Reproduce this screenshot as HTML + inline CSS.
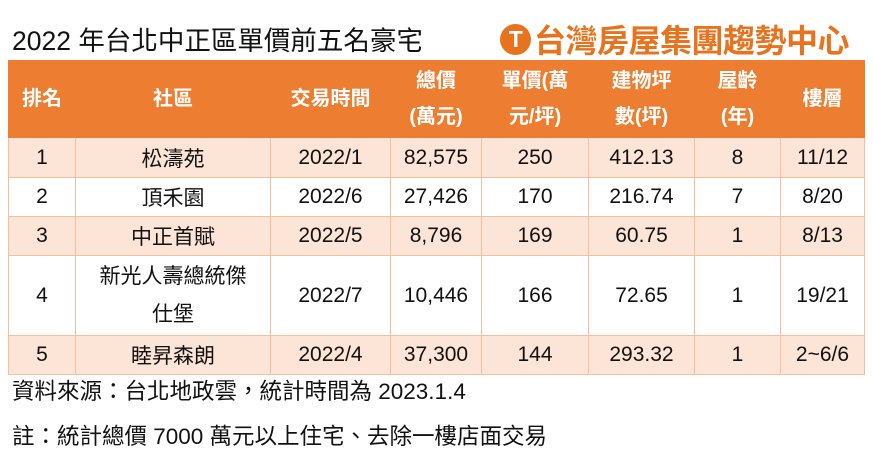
<!DOCTYPE html>
<html><head><meta charset="utf-8"><style>
body{margin:0;width:873px;height:455px;background:#fff;font-family:"Liberation Sans","Noto Sans CJK TC",sans-serif;position:relative;overflow:hidden}
.title{position:absolute;left:12px;top:19px;font-size:26.5px;color:#111}
.logo{position:absolute;left:500px;top:16px;font-size:32px;font-weight:bold;color:#e8731e;display:flex;align-items:center;letter-spacing:-0.5px}
.logo .ic{width:31px;height:31px;border-radius:50%;background:#e8731e;color:#fff;font-size:23px;display:inline-flex;align-items:center;justify-content:center;margin-right:3px}
table{position:absolute;left:8px;top:60px;border-collapse:collapse;font-size:21px;color:#111}
td,th{border:1px solid #f4c09a;text-align:center;padding:0}
th{background:#ed7d31;color:#fff;font-weight:bold;font-size:20px;line-height:36px;border-color:#ed7d31}
tr.o td{background:#fce4d6}
.f{position:absolute;left:12px;font-size:22.5px;color:#111}
</style></head><body>
<div class="title">2022 年台北中正區單價前五名豪宅</div>
<div class="logo"><span class="ic">T</span>台灣房屋集團趨勢中心</div>
<table>
<colgroup><col style="width:67px"><col style="width:195px"><col style="width:120px"><col style="width:91px"><col style="width:107px"><col style="width:106px"><col style="width:86px"><col style="width:84px"></colgroup>
<tr style="height:77px"><th>排名</th><th>社區</th><th>交易時間</th><th>總價<br>(萬元)</th><th>單價(萬<br>元/坪)</th><th>建物坪<br>數(坪)</th><th>屋齡<br>(年)</th><th>樓層</th></tr>
<tr class="o" style="height:40px"><td>1</td><td>松濤苑</td><td>2022/1</td><td>82,575</td><td>250</td><td>412.13</td><td>8</td><td>11/12</td></tr>
<tr style="height:39px"><td>2</td><td>頂禾園</td><td>2022/6</td><td>27,426</td><td>170</td><td>216.74</td><td>7</td><td>8/20</td></tr>
<tr class="o" style="height:39px"><td>3</td><td>中正首賦</td><td>2022/5</td><td>8,796</td><td>169</td><td>60.75</td><td>1</td><td>8/13</td></tr>
<tr style="height:80px"><td>4</td><td style="line-height:38px">新光人壽總統傑<br>仕堡</td><td>2022/7</td><td>10,446</td><td>166</td><td>72.65</td><td>1</td><td>19/21</td></tr>
<tr class="o" style="height:39px"><td>5</td><td>睦昇森朗</td><td>2022/4</td><td>37,300</td><td>144</td><td>293.32</td><td>1</td><td>2~6/6</td></tr>
</table>
<div class="f" style="top:374px">資料來源：台北地政雲，統計時間為 2023.1.4</div>
<div class="f" style="top:419px">註：統計總價 7000 萬元以上住宅、去除一樓店面交易</div>
</body></html>
